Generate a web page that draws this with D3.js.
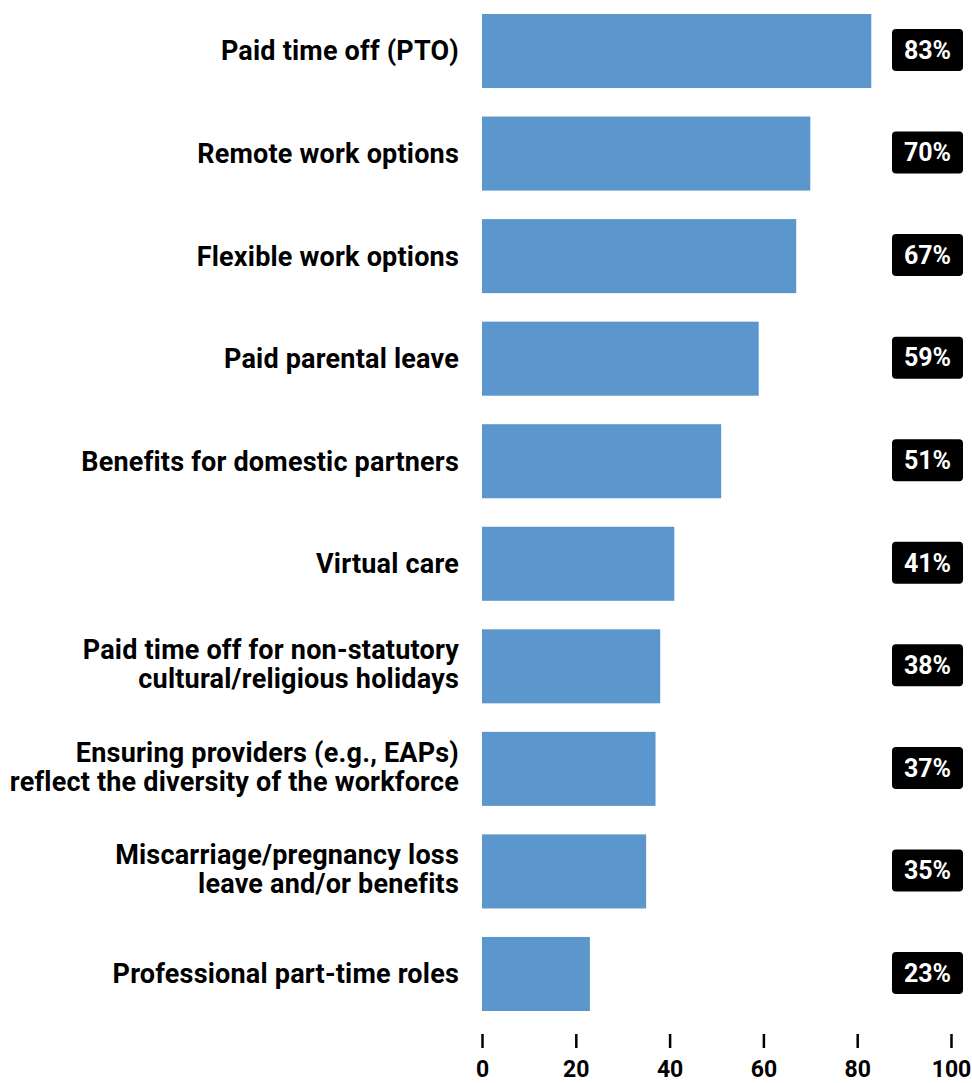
<!DOCTYPE html>
<html>
<head>
<meta charset="utf-8">
<script src="https://cdn.jsdelivr.net/npm/d3@7"></script>
<style>
  html, body { margin: 0; padding: 0; background: #fff; }
  svg { display: block; font-family: Roboto, "Noto Sans", sans-serif; }
</style>
</head>
<body>
<svg id="chart" width="972" height="1083"></svg>
<script>
// Share of organisations offering each benefit (%)
const categories = [
  ["Paid time off (PTO)"],
  ["Remote work options"],
  ["Flexible work options"],
  ["Paid parental leave"],
  ["Benefits for domestic partners"],
  ["Virtual care"],
  ["Paid time off for non-statutory", "cultural/religious holidays"],
  ["Ensuring providers (e.g., EAPs)", "reflect the diversity of the workforce"],
  ["Miscarriage/pregnancy loss", "leave and/or benefits"],
  ["Professional part-time roles"]
];
const values = [83, 70, 67, 59, 51, 41, 38, 37, 35, 23];
const tickValues = [0, 20, 40, 60, 80, 100];

const svg = d3.select("#chart");
const plotLeft = 482, plotRight = 951;
const plotTop = 14, plotBottom = 1011;

const keys = categories.map(d => d.join(" "));
const x = d3.scaleLinear().domain([0, 100]).range([plotLeft, plotRight]);
const y = d3.scaleBand().domain(keys).range([plotTop, plotBottom]).paddingInner(0.278).paddingOuter(0);

const rows = svg.append("g").selectAll("g")
  .data(keys)
  .join("g");

rows.append("rect")
  .attr("x", x(0))
  .attr("y", d => y(d))
  .attr("width", (d, i) => x(values[i]) - x(0))
  .attr("height", y.bandwidth())
  .attr("fill", "#5b96cd");

// category labels, right-aligned against the bars
const labelSize = 27, lineHeight = 29;
rows.append("text")
  .attr("text-anchor", "end")
  .attr("font-weight", 700)
  .attr("font-size", labelSize)
  .attr("letter-spacing", 0.2)
  .attr("fill", "#000")
  .each(function(d, i) {
    const lines = categories[i];
    const cy = y(d) + y.bandwidth() / 2 - (lines.length - 1) * 2;
    const start = cy - (lines.length - 1) * lineHeight / 2;
    d3.select(this).selectAll("tspan")
      .data(lines)
      .join("tspan")
      .attr("x", 459)
      .attr("y", (t, j) => start + j * lineHeight)
      .attr("dy", "0.35em")
      .text(t => t);
  });

// value badges
const badgeW = 71, badgeH = 42;
rows.append("rect")
  .attr("x", 892)
  .attr("y", d => y(d) + y.bandwidth() / 2 - badgeH / 2 - 1)
  .attr("width", badgeW)
  .attr("height", badgeH)
  .attr("rx", 4)
  .attr("fill", "#000");

rows.append("text")
  .attr("x", 892 + badgeW / 2)
  .attr("y", d => y(d) + y.bandwidth() / 2 - 1)
  .attr("dy", "0.35em")
  .attr("text-anchor", "middle")
  .attr("font-weight", 700)
  .attr("font-size", 25)
  .attr("fill", "#fff")
  .text((d, i) => values[i] + "%");

// x axis: tick marks and labels, no baseline
const axis = d3.axisBottom(x)
  .tickValues(tickValues)
  .tickSize(14)
  .tickPadding(13)
  .tickFormat(d3.format("d"));

const gx = svg.append("g")
  .attr("transform", "translate(0,1034)")
  .call(axis);
gx.select(".domain").remove();
gx.selectAll(".tick line").attr("stroke", "#000").attr("stroke-width", 2.5);
gx.selectAll(".tick text")
  .attr("font-family", "Roboto, sans-serif")
  .attr("font-size", 23)
  .attr("font-weight", 700)
  .attr("fill", "#000");
</script>
</body>
</html>
